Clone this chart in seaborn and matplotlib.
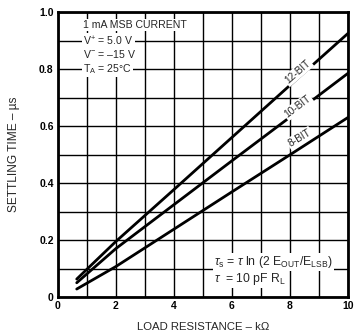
import matplotlib
matplotlib.use("Agg")
import matplotlib.pyplot as plt
import seaborn as sns
import pandas as pd
from matplotlib.ticker import MultipleLocator

# Data
load_k = [0.65, 2.0, 4.0, 6.0, 8.0, 10.0]
t_12bit = [0.063, 0.195, 0.377, 0.56, 0.743, 0.925]
t_10bit = [0.050, 0.170, 0.324, 0.478, 0.631, 0.785]
t_8bit = [0.028, 0.107, 0.238, 0.369, 0.499, 0.630]
series_names = ["12-BIT", "10-BIT", "8-BIT"]
x_ticks = [0, 2, 4, 6, 8, 10]
y_ticks = [0, 0.2, 0.4, 0.6, 0.8, 1.0]
y_tick_labels = ["0", "0.2", "0.4", "0.6", "0.8", "1.0"]

df = pd.concat([
    pd.DataFrame({"R": load_k, "t": t_12bit, "bits": "12-BIT"}),
    pd.DataFrame({"R": load_k, "t": t_10bit, "bits": "10-BIT"}),
    pd.DataFrame({"R": load_k, "t": t_8bit, "bits": "8-BIT"}),
])

sns.set_style("ticks")
plt.rcParams["font.family"] = ["Liberation Sans", "DejaVu Sans"]
plt.rcParams["mathtext.fontset"] = "custom"
plt.rcParams["mathtext.rm"] = "Liberation Sans"
plt.rcParams["mathtext.it"] = "Liberation Sans:italic"

fig = plt.figure(figsize=(3.55, 3.36), dpi=100)
ax = fig.add_axes([0.163, 0.116, 0.817, 0.848])

sns.lineplot(data=df, x="R", y="t", hue="bits", hue_order=series_names,
             palette=["black"] * 3, linewidth=2.0, legend=False, ax=ax)

ax.set_xlim(0, 10)
ax.set_ylim(0, 1.0)
ax.set_xticks(x_ticks)
ax.set_yticks(y_ticks)
ax.set_yticklabels(y_tick_labels)
ax.xaxis.set_minor_locator(MultipleLocator(1))
ax.yaxis.set_minor_locator(MultipleLocator(0.1))
ax.grid(True, which="both", color="black", linewidth=1.0)
ax.set_axisbelow(True)
for s in ax.spines.values():
    s.set_linewidth(2.0)
    s.set_color("black")
ax.tick_params(which="both", length=0, labelsize=7.5, colors="black", pad=3)
for lab in ax.get_xticklabels() + ax.get_yticklabels():
    lab.set_fontweight("bold")

ax.set_xlabel("LOAD RESISTANCE – kΩ", fontsize=8.2, labelpad=8)
ax.set_ylabel("SETTLING TIME – µs", fontsize=8.6, labelpad=14)

bb = dict(facecolor="white", edgecolor="none", pad=0.8)
fs = 7.6
ax.text(0.88, 0.954, "1 mA MSB CURRENT", fontsize=fs, va="center", ha="left", bbox=bb)
ax.text(0.88, 0.898, "V$^{+}$ = 5.0 V", fontsize=fs, va="center", ha="left", bbox=bb)
ax.text(0.88, 0.853, "V$^{-}$ = –15 V", fontsize=fs, va="center", ha="left", bbox=bb)
ax.text(0.88, 0.800, "T$_{\\rm A}$ = 25°C", fontsize=fs, va="center", ha="left", bbox=bb)

ax.text(8.28, 0.79, "12-BIT", fontsize=7.3, rotation=41, ha="center", va="center", bbox=bb)
ax.text(8.28, 0.668, "10-BIT", fontsize=7.3, rotation=37, ha="center", va="center", bbox=bb)
ax.text(8.34, 0.558, "8-BIT", fontsize=7.3, rotation=31, ha="center", va="center", bbox=bb)

ax.text(5.4, 0.123, r"$\tau_{\rm s}$ = $\tau$ ln (2 E$_{\rm OUT}$/E$_{\rm LSB}$)", fontsize=8.8,
        ha="left", va="center", bbox=bb)
ax.text(5.4, 0.062, r"$\tau$  = 10 pF R$_{\rm L}$", fontsize=8.8, ha="left", va="center", bbox=bb)

fig.savefig("out.png", dpi=100)
